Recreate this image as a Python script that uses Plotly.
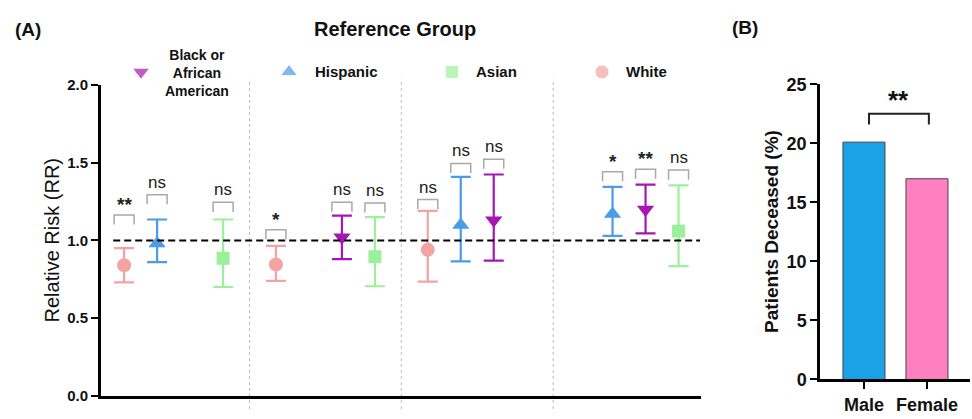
import plotly.graph_objects as go

# ---- data -------------------------------------------------------------
ref_groups = ["Black or African American", "Hispanic", "Asian", "White"]
slot_order = ["White", "Hispanic", "Black", "Asian"]

# comparison group, relative risk, CI low, CI high, significance (per reference group)
comp_group = ["White", "Hispanic", "Asian",
              "White", "Black", "Asian",
              "White", "Hispanic", "Black",
              "Hispanic", "Black", "Asian"]
ref_index = [0, 0, 0, 1, 1, 1, 2, 2, 2, 3, 3, 3]
rr = [0.84, 0.98, 0.885,
      0.845, 1.02, 0.895,
      0.94, 1.10, 1.13,
      1.17, 1.20, 1.06]
ci_low = [0.73, 0.86, 0.70,
          0.74, 0.88, 0.705,
          0.735, 0.865, 0.87,
          1.03, 1.045, 0.835]
ci_high = [0.95, 1.135, 1.135,
           0.965, 1.16, 1.15,
           1.19, 1.41, 1.425,
           1.345, 1.36, 1.355]
sig = ["**", "ns", "ns",
       "*", "ns", "ns",
       "ns", "ns", "ns",
       "*", "**", "ns"]

sex = ["Male", "Female"]
deceased_pct = [20.1, 17.0]
sex_sig = "**"

# ---- styling ----------------------------------------------------------
FONT = "Liberation Sans, Arial, Helvetica, sans-serif"
style = {
    "Black":    dict(color="#A616B5", symbol="triangle-down", size=15, label="Black or<br>African<br>American"),
    "Hispanic": dict(color="#4A9BE8", symbol="triangle-up", size=15, label="Hispanic"),
    "Asian":    dict(color="#9CF09C", symbol="square", size=13, label="Asian"),
    "White":    dict(color="#F4A3A3", symbol="circle", size=14, label="White"),
}
GROUP_STEP = 4.6
px_per_unit_y = 163.0  # pixels per RR unit in panel A
bracket_gap_px = [35, 26, 18, 17, 14, 15, 12, 14, 16, 16, 16, 16]

xpos = [ref_index[i] * GROUP_STEP + slot_order.index(c) for i, c in enumerate(comp_group)]

fig = go.Figure()

# panel A: one trace per comparison group
for g in slot_order:
    idx = [i for i, c in enumerate(comp_group) if c == g]
    st = style[g]
    fig.add_trace(go.Scatter(
        x=[xpos[i] for i in idx],
        y=[rr[i] for i in idx],
        mode="markers",
        marker=dict(symbol=st["symbol"], size=st["size"], color=st["color"], line=dict(width=0)),
        error_y=dict(type="data", symmetric=False,
                     array=[ci_high[i] - rr[i] for i in idx],
                     arrayminus=[rr[i] - ci_low[i] for i in idx],
                     color=st["color"], thickness=2.2, width=10),
        showlegend=False, xaxis="x", yaxis="y", cliponaxis=False,
    ))

shapes = []
annotations = []

# reference line at RR = 1
shapes.append(dict(type="line", xref="x", yref="y", x0=-0.33, x1=17.45, y0=1, y1=1,
                   line=dict(color="black", width=2, dash="7px,4px")))

# dotted separators between reference groups
for k in range(3):
    xs = k * GROUP_STEP + 3 + (GROUP_STEP - 3) / 2
    shapes.append(dict(type="line", xref="x", yref="paper", x0=xs, x1=xs, y0=0, y1=0.828,
                       line=dict(color="#BDBDBD", width=1, dash="dot"), layer="below"))

# significance brackets for panel A
half_w = 10 / 33.0
leg = 10 / px_per_unit_y
for i in range(len(rr)):
    top = ci_high[i] + bracket_gap_px[i] / px_per_unit_y
    x0, x1 = xpos[i] - half_w, xpos[i] + half_w
    shapes.append(dict(type="path", xref="x", yref="y",
                       path=f"M{x0},{top - leg} L{x0},{top} L{x1},{top} L{x1},{top - leg}",
                       line=dict(color="#A8A8A8", width=1.5)))
    is_star = sig[i] != "ns"
    annotations.append(dict(
        x=xpos[i], y=top, xref="x", yref="y", text=f"<b>{sig[i]}</b>" if is_star else sig[i],
        showarrow=False, yanchor="bottom", yshift=(-2 if is_star else 1),
        font=dict(family=FONT, size=19 if is_star else 17, color="#222"),
    ))

# panel B: bars
fig.add_trace(go.Bar(
    x=[0, 1], y=deceased_pct, width=0.667,
    marker=dict(color=["#1BA1E6", "#FF80C0"], line=dict(color="#444", width=1)),
    xaxis="x2", yaxis="y2", showlegend=False,
))
b_top, b_leg = 22.5, 0.9
shapes.append(dict(type="path", xref="x2", yref="y2",
                   path=f"M0.08,{b_top - b_leg} L0.08,{b_top} L1.03,{b_top} L1.03,{b_top - b_leg}",
                   line=dict(color="#222", width=2)))
annotations.append(dict(x=0.555, y=b_top, xref="x2", yref="y2", text=f"<b>{sex_sig}</b>",
                        showarrow=False, yanchor="bottom", yshift=-3,
                        font=dict(family=FONT, size=26, color="#111")))

# legend keys for panel A
legend_x = [141, 289, 452, 602]
legend_keys = ["Black", "Hispanic", "Asian", "White"]
fig.add_trace(go.Scatter(
    x=[v / 972 for v in legend_x], y=[(419 - 65) / 419] * 4, mode="markers",
    marker=dict(symbol=[style[k]["symbol"] for k in legend_keys],
                size=[style[k]["size"] for k in legend_keys],
                color=[style[k]["color"] for k in legend_keys]),
    xaxis="x3", yaxis="y3", showlegend=False, hoverinfo="skip",
))
annotations.append(dict(x=197 / 972, y=(419 - 66) / 419, xref="paper", yref="paper",
                        text="<b>" + style["Black"]["label"] + "</b>", showarrow=False,
                        align="center", xanchor="center", yanchor="middle",
                        font=dict(family=FONT, size=14, color="#111")))
for key, lx in zip(["Hispanic", "Asian", "White"], [313, 474, 624]):
    annotations.append(dict(x=lx / 972, y=(419 - 65) / 419, xref="paper", yref="paper",
                            text="<b>" + style[key]["label"] + "</b>", showarrow=False,
                            xanchor="left", yanchor="middle",
                            font=dict(family=FONT, size=15, color="#111")))

# titles and panel labels
annotations += [
    dict(x=395 / 972, y=(419 - 20) / 419, xref="paper", yref="paper", text="<b>Reference Group</b>",
         showarrow=False, xanchor="center", yanchor="middle", font=dict(family=FONT, size=20, color="#111")),
    dict(x=28 / 972, y=(419 - 20) / 419, xref="paper", yref="paper", text="<b>(A)</b>",
         showarrow=False, xanchor="center", yanchor="middle", font=dict(family=FONT, size=19, color="#111")),
    dict(x=745 / 972, y=(419 - 18) / 419, xref="paper", yref="paper", text="<b>(B)</b>",
         showarrow=False, xanchor="center", yanchor="middle", font=dict(family=FONT, size=19, color="#111")),
    dict(x=52 / 972, y=(419 - 242) / 419, xref="paper", yref="paper", text="Relative Risk (RR)",
         textangle=-90, showarrow=False, xanchor="center", yanchor="middle",
         font=dict(family=FONT, size=20, color="#111")),
    dict(x=772 / 972, y=(419 - 233) / 419, xref="paper", yref="paper", text="<b>Patients Deceased (%)</b>",
         textangle=-90, showarrow=False, xanchor="center", yanchor="middle",
         font=dict(family=FONT, size=19, color="#111")),
]

tick_font_a = dict(family=FONT, size=15, color="#111")
tick_font_b = dict(family=FONT, size=18, color="#111")
fig.update_layout(
    width=972, height=419, margin=dict(l=0, r=0, t=0, b=0),
    paper_bgcolor="white", plot_bgcolor="rgba(0,0,0,0)",
    shapes=shapes, annotations=annotations,
    xaxis=dict(domain=[101 / 972, 701 / 972], range=[-0.7, 17.48], showgrid=False, zeroline=False,
               showticklabels=False, ticks="", showline=True, linecolor="black", linewidth=3,
               anchor="y"),
    yaxis=dict(domain=[14 / 419, 340 / 419], range=[0, 2], tickvals=[0, 0.5, 1, 1.5, 2],
               ticktext=["<b>0.0</b>", "<b>0.5</b>", "<b>1.0</b>", "<b>1.5</b>", "<b>2.0</b>"],
               showgrid=False, zeroline=False, showline=True, linecolor="black", linewidth=3,
               ticks="outside", ticklen=7, tickwidth=2, tickcolor="black", tickfont=tick_font_a,
               anchor="x"),
    xaxis2=dict(domain=[820 / 972, 970 / 972], range=[-0.698, 1.683], tickvals=[0, 1],
                ticktext=["<b>Male</b>", "<b>Female</b>"], showgrid=False, zeroline=False,
                showline=True, linecolor="black", linewidth=2.5, ticks="outside", ticklen=7,
                tickwidth=2, tickcolor="black", tickfont=tick_font_b, anchor="y2"),
    yaxis2=dict(domain=[31 / 419, 341 / 419], range=[0, 25], tickvals=[0, 5, 10, 15, 20, 25],
                ticktext=[f"<b>{v}</b>" for v in [0, 5, 10, 15, 20, 25]],
                showgrid=False, zeroline=False, showline=True, linecolor="black", linewidth=2.5,
                ticks="outside", ticklen=7, tickwidth=2, tickcolor="black",
                tickfont=tick_font_b, anchor="x2"),
    xaxis3=dict(domain=[0, 1], range=[0, 1], visible=False, anchor="y3"),
    yaxis3=dict(domain=[0, 1], range=[0, 1], visible=False, anchor="x3"),
)

fig.write_html("out.html")
